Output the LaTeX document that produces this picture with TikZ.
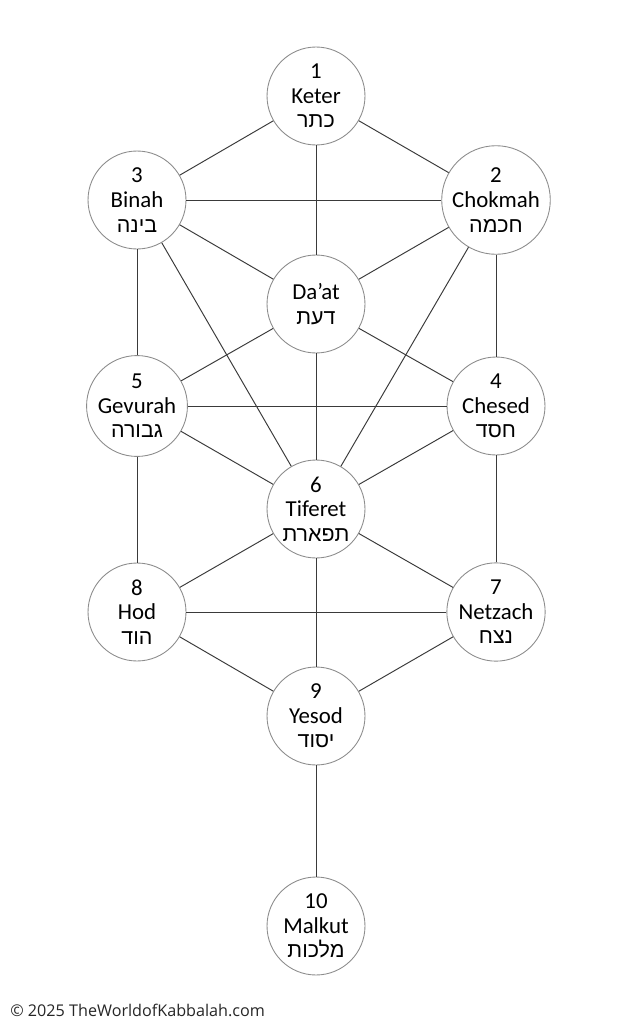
\documentclass[tikz,border=0pt]{standalone}
\usepackage{fontspec}
\setmainfont{Carlito}
\newfontfamily\hebfont[Script=Hebrew]{Liberation Sans}
\newfontfamily\markfont{Open Sans}
\TeXXeTstate=1
\definecolor{ringgray}{HTML}{8C8C8C}
\definecolor{pathgray}{HTML}{3A3A3A}
\newcommand{\heblabel}[1]{{\hebfont\fontsize{12.2}{14}\selectfont\beginR #1\endR}}

\begin{document}
\begin{tikzpicture}[
    x=0.02cm, y=-0.02cm,
    sefira/.style={circle, draw=ringgray, line width=0.5pt, fill=white,
        minimum size=1.96cm, inner sep=0pt, align=center,
        font=\fontsize{13}{14}\selectfont},
    path/.style={draw=pathgray, line width=0.55pt},
]
\useasboundingbox (0,0) rectangle (633,1024);

% Sefirot
\foreach \n/\x/\y/\k/\name/\heb in {
    keter/316/96/1/Keter/כתר,
    chokmah/496/200/2/Chokmah/חכמה,
    binah/137/200/3/Binah/בינה,
    chesed/496/406/4/Chesed/חסד,
    gevurah/137/406/5/Gevurah/גבורה,
    tiferet/316/509/6/Tiferet/תפארת,
    netzach/496/612/7/Netzach/נצח,
    hod/137/612/8/Hod/הוד,
    yesod/316/716/9/Yesod/יסוד,
    malkut/316/926/10/Malkut/מלכות} {
    \node[sefira] (\n) at (\x,\y) {\k\\\name\\\heblabel{\heb}};
}
% Da'at has no number
\node[sefira] (daat) at (316,304) {Da’at\\\heblabel{דעת}};

% Paths
\foreach \a/\b in {keter/binah, keter/chokmah, keter/daat,
    binah/chokmah, binah/daat, chokmah/daat,
    binah/gevurah, chokmah/chesed, binah/tiferet, chokmah/tiferet,
    daat/gevurah, daat/chesed, daat/tiferet,
    gevurah/chesed, gevurah/tiferet, chesed/tiferet,
    gevurah/hod, chesed/netzach,
    tiferet/hod, tiferet/netzach, tiferet/yesod,
    hod/netzach, hod/yesod, netzach/yesod, yesod/malkut} {
    \draw[path] (\a) -- (\b);
}

% Footer
\node[anchor=west, inner sep=0pt, font=\markfont\fontsize{9.2}{11}\selectfont, text=black!85]
    (credit) at (10,1010) {© 2025 TheWorldofKabbalah.com};

\end{tikzpicture}
\end{document}
